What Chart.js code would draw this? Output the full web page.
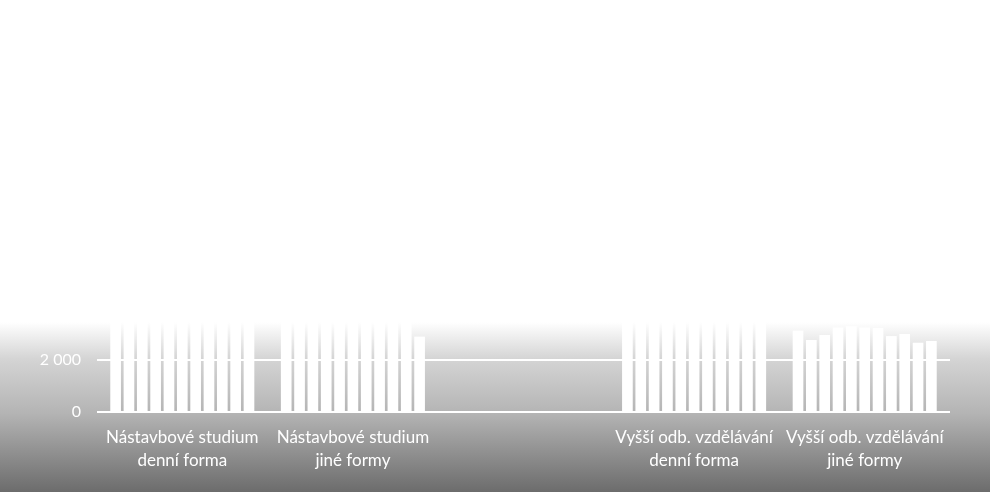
<!DOCTYPE html>
<html>
<head>
<meta charset="utf-8">
<script src="https://cdn.jsdelivr.net/npm/chart.js@4"></script>
<style>
  html, body { margin: 0; padding: 0; }
  #wrap {
    width: 990px; height: 492px; position: relative;
    background: linear-gradient(to bottom, #ffffff 0%, #ffffff 65.5%, #d4d4d4 73%, #b4b4b4 84%, #6c6c6c 100%);
  }
</style>
</head>
<body>
<div id="wrap"><canvas id="myChart" width="990" height="492"></canvas></div>
<script>
// Categories (third one has no label and no data in the source)
const categories = [
    ['Nástavbové studium', 'denní forma'],
    ['Nástavbové studium', 'jiné formy'],
    '',
    ['Vyšší odb. vzdělávání', 'denní forma'],
    ['Vyšší odb. vzdělávání', 'jiné formy']
];
const years = ['2005', '2006', '2007', '2008', '2009', '2010', '2011', '2012', '2013', '2014', '2015'];

// Values per category, one per year (bars above ~3 400 fade into the white background)
const nastDenni = [6200, 5900, 5600, 5300, 5100, 4800, 4600, 4300, 4100, 3900, 3700];
const nastJine = [5200, 5000, 4900, 4700, 4500, 4300, 4100, 3900, 3800, 3700, 2900];
const prazdne = [null, null, null, null, null, null, null, null, null, null, null];
const vosDenni = [6100, 6000, 5900, 5800, 5700, 5600, 5400, 5200, 5000, 4800, 4600];
const vosJine = [3130, 2770, 2960, 3250, 3300, 3250, 3230, 2920, 3000, 2665, 2730];

const yTicks = { min: 0, max: 14000, step: 2000 };

const perCategory = [nastDenni, nastJine, prazdne, vosDenni, vosJine];
const datasets = years.map((y, i) => ({
    label: y,
    data: perCategory.map(c => c[i]),
    backgroundColor: '#ffffff',
    borderWidth: 0,
    categoryPercentage: 0.86,
    barPercentage: 0.8
}));

const ctx = document.getElementById('myChart').getContext('2d');

const chart = new Chart(ctx, {
    type: 'bar',
    data: { labels: categories, datasets: datasets },
    options: {
        responsive: false,
        animation: false,
        layout: { padding: { top: 48, right: 40, left: 0, bottom: 0 } },
        plugins: {
            legend: { display: false },
            tooltip: { enabled: false }
        },
        scales: {
            x: {
                grid: { display: false },
                border: { display: false },
                ticks: {
                    color: '#ffffff',
                    maxRotation: 0,
                    autoSkip: false,
                    padding: 6,
                    font: { family: 'Lato', size: 17, lineHeight: 1.35 }
                },
                afterFit: (scale) => { scale.height = 80; }
            },
            y: {
                min: yTicks.min,
                max: yTicks.max,
                border: { display: false },
                grid: { color: '#ffffff', lineWidth: 2, drawTicks: false },
                ticks: {
                    stepSize: yTicks.step,
                    color: '#ffffff',
                    padding: 16,
                    font: { family: 'Lato', size: 16 },
                    callback: (v) => v.toString().replace(/\B(?=(\d{3})+(?!\d))/g, ' ')
                },
                afterFit: (scale) => { scale.width = 97; }
            }
        }
    }
});
</script>
</body>
</html>
